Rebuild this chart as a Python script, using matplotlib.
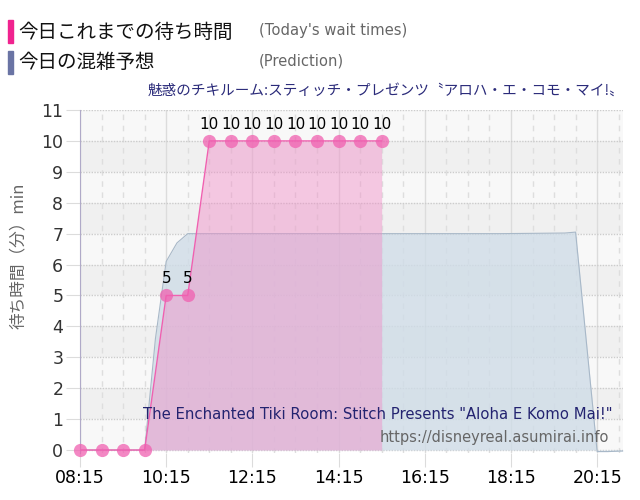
import matplotlib.pyplot as plt
from matplotlib.patches import Rectangle
import numpy as np

plt.rcParams['font.family'] = ['Noto Sans CJK JP', 'DejaVu Sans']

# actual wait times (every 30 min from 08:15), hours as float
actual_t = [8.25, 8.75, 9.25, 9.75, 10.25, 10.75, 11.25, 11.75, 12.25, 12.75,
            13.25, 13.75, 14.25, 14.75, 15.25]
actual_v = [0, 0, 0, 0, 5, 5, 10, 10, 10, 10, 10, 10, 10, 10, 10]

# prediction curve
pred_t = [8.25, 8.5, 8.75, 9.0, 9.25, 9.5, 9.75, 10.0, 10.25, 10.5, 10.75, 11.0,
          12.0, 14.0, 16.0, 18.0, 19.5, 19.75, 20.0, 20.25, 20.5, 20.85]
pred_v = [0, 0, 0, 0, 0, 0, 0, 3.6, 6.1, 6.7, 7.0, 7.0,
          7.0, 7.0, 7.0, 7.0, 7.02, 7.05, 3.5, -0.05, -0.05, -0.03]

xtick_pos = [8.25, 10.25, 12.25, 14.25, 16.25, 18.25, 20.25]
xtick_lab = ['08:15', '10:15', '12:15', '14:15', '16:15', '18:15', '20:15']

title_ja = '魅惑のチキルーム:スティッチ・プレゼンツ〝アロハ・エ・コモ・マイ!〟'
title_en = 'The Enchanted Tiki Room: Stitch Presents "Aloha E Komo Mai!"'
url = 'https://disneyreal.asumirai.info'

fig = plt.figure(figsize=(6.4, 5), dpi=100)
ax = fig.add_axes([80 / 640, 1 - 452.5 / 500, 543 / 640, 342.5 / 500])
xmin, xmax = 8.25, 20.85
ax.set_xlim(xmin, xmax)
ax.set_ylim(-0.08, 11)
ax.set_facecolor('white')

# alternating bands
for k in range(11):
    ax.axhspan(k, k + 1, color='#f0f0f0' if k % 2 == 1 else '#f8f8f8', lw=0, zorder=0)

# grid
for t in np.arange(xmin, xmax, 0.5):
    if abs((t - 8.25) % 2) < 1e-6:
        ax.axvline(t, color='#dcdcdc', lw=1, zorder=1)
    else:
        ax.axvline(t, color='#dedede', lw=1, ls=(0, (4, 4)), zorder=1)
for y in range(12):
    ax.axhline(y, color='#cccccc', lw=1, ls=(0, (1, 1)), zorder=1)

# prediction
ax.fill_between(pred_t, 0, pred_v, color='#cfdce7', alpha=0.8, lw=0, zorder=2)
ax.plot(pred_t, pred_v, color='#a8b8c8', lw=0.8, zorder=3)

# actual
ax.fill_between(actual_t, 0, actual_v, color='#f08cc6', alpha=0.45, lw=0, zorder=4)
ax.plot(actual_t, actual_v, color='#f060b0', lw=1, zorder=5)
ax.plot(actual_t, actual_v, 'o', ms=9.5, color='#f060b0', alpha=0.75, mec='none',
        zorder=6, clip_on=False)
for t, v in zip(actual_t, actual_v):
    if v > 0:
        ax.text(t, v + 0.3, str(v), ha='center', va='bottom', fontsize=11,
                color='black', zorder=7, family='DejaVu Sans')

ax.set_xticks(xtick_pos)
ax.set_xticklabels(xtick_lab, fontsize=12.5, family='DejaVu Sans')
ax.set_yticks(range(12))
ax.set_yticklabels([str(i) for i in range(12)], fontsize=12.5, color='#333333',
                   family='DejaVu Sans')
ax.tick_params(axis='x', length=10, color='#dcdcdc', pad=2)
ax.tick_params(axis='y', length=10, color='#dcdcdc', pad=2)
for s in ['top', 'right', 'bottom']:
    ax.spines[s].set_visible(False)
ax.spines['left'].set_color('#b0aac8')

ax.set_ylabel('待ち時間（分）min', fontsize=12, color='#666666')
ax.yaxis.set_label_coords(-0.097, 0.574)

ax.text(0.98, 0.11, title_en, transform=ax.transAxes, ha='right', va='center',
        fontsize=10.7, color='#232370', zorder=8, family='DejaVu Sans')
ax.text(0.975, 0.045, url, transform=ax.transAxes, ha='right', va='center',
        fontsize=10.5, color='#666666', zorder=8, family='DejaVu Sans')

# header legend
fig.patches.append(Rectangle((8 / 640, 1 - 43 / 500), 5 / 640, 23 / 500,
                             transform=fig.transFigure, color='#f0238f'))
fig.patches.append(Rectangle((8 / 640, 1 - 74 / 500), 5 / 640, 23 / 500,
                             transform=fig.transFigure, color='#6a74a4'))
fig.text(18 / 640, 1 - 32 / 500, '今日これまでの待ち時間', fontsize=14, va='center',
         color='#111111')
fig.text(18 / 640, 1 - 62 / 500, '今日の混雑予想', fontsize=14, va='center',
         color='#111111')
fig.text(259 / 640, 1 - 31 / 500, "(Today's wait times)", fontsize=10.6, va='center',
         color='#666666', family='DejaVu Sans')
fig.text(259 / 640, 1 - 61 / 500, '(Prediction)', fontsize=10.6, va='center',
         color='#666666', family='DejaVu Sans')
fig.text(624 / 640, 1 - 91 / 500, title_ja, fontsize=10.5, ha='right', va='center',
         color='#2b2b7a')

fig.savefig('out.png', dpi=100)
